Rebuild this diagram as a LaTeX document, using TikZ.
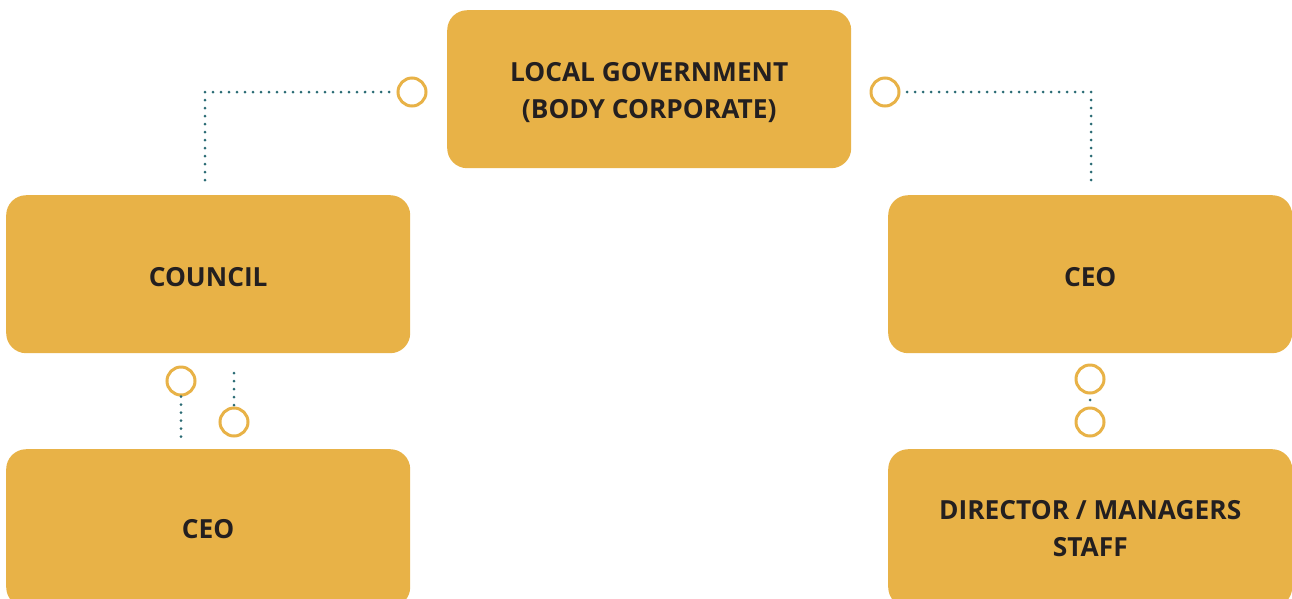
\documentclass[tikz,border=0pt]{standalone}
\usepackage{fontspec}
\setmainfont{Open Sans}
\definecolor{boxfill}{HTML}{E8B247}
\definecolor{txt}{HTML}{231F20}
\definecolor{dotc}{HTML}{2A6B74}
\definecolor{ringc}{HTML}{E8B247}
\tikzset{
  orgbox/.style={fill=boxfill, rounded corners=20pt, minimum width=404pt, minimum height=158pt,
    inner sep=0pt, anchor=north west},
  boxtext/.style={text=txt, font=\bfseries\fontsize{26.3}{37}\selectfont, align=center, inner sep=0pt},
  ring/.style={circle, draw=ringc, line width=3pt, minimum size=28pt, inner sep=0pt},
  dotline/.style={draw=dotc, line width=3pt, line cap=round, dash pattern=on 0pt off 8pt}
}
\begin{document}
\begin{tikzpicture}[x=1pt,y=-1pt]
\useasboundingbox (0,0) rectangle (1292,598);
\begin{scope}
\clip (0,0) rectangle (1292,598);
\node[orgbox] (lg) at (447,10) {};
\node[orgbox] (council) at (6,195) {};
\node[orgbox] (ceoR) at (888,195) {};
\node[orgbox] (ceoL) at (6,449) {};
\node[orgbox] (dir) at (888,449) {};
\end{scope}
\node[boxtext] (lgT) at ([yshift=-3pt]lg.center) {LOCAL GOVERNMENT\\(BODY CORPORATE)};
\node[boxtext] (councilT) at ([yshift=-3pt]council.center) {COUNCIL};
\node[boxtext] (ceoRT) at ([yshift=-3pt]ceoR.center) {CEO};
\node[boxtext] (ceoLT) at ([yshift=-1pt]ceoL.center) {CEO};
\node[boxtext] (dirT) at ([yshift=-0.5pt]dir.center) {DIRECTOR / MANAGERS\\STAFF};
% rings
\node[ring] (r1) at (412,92) {};
\node[ring] (r2) at (885,92) {};
\node[ring] (r3) at (181,381) {};
\node[ring] (r4) at (234,422) {};
\node[ring] (r5) at (1090,379) {};
\node[ring] (r6) at (1090,422) {};
% corner coordinates
\coordinate (c1) at (205,92);
\coordinate (c1e) at (205,180);
\coordinate (c2) at (1091,92);
\coordinate (c2e) at (1091,180);
\coordinate (c3e) at (181,437);
\coordinate (c4e) at (234,373);
\coordinate (c5) at (1090,400);
% dotted connectors
\draw[dotline] (c1e) -- (c1) -- (r1.west);
\draw[dotline] (c2e) -- (c2) -- (r2.east);
\draw[dotline] (r3.south) -- (c3e);
\draw[dotline] (c4e) -- (r4.north);
\fill[dotc] (c5) circle (1.5pt);
\end{tikzpicture}
\end{document}
